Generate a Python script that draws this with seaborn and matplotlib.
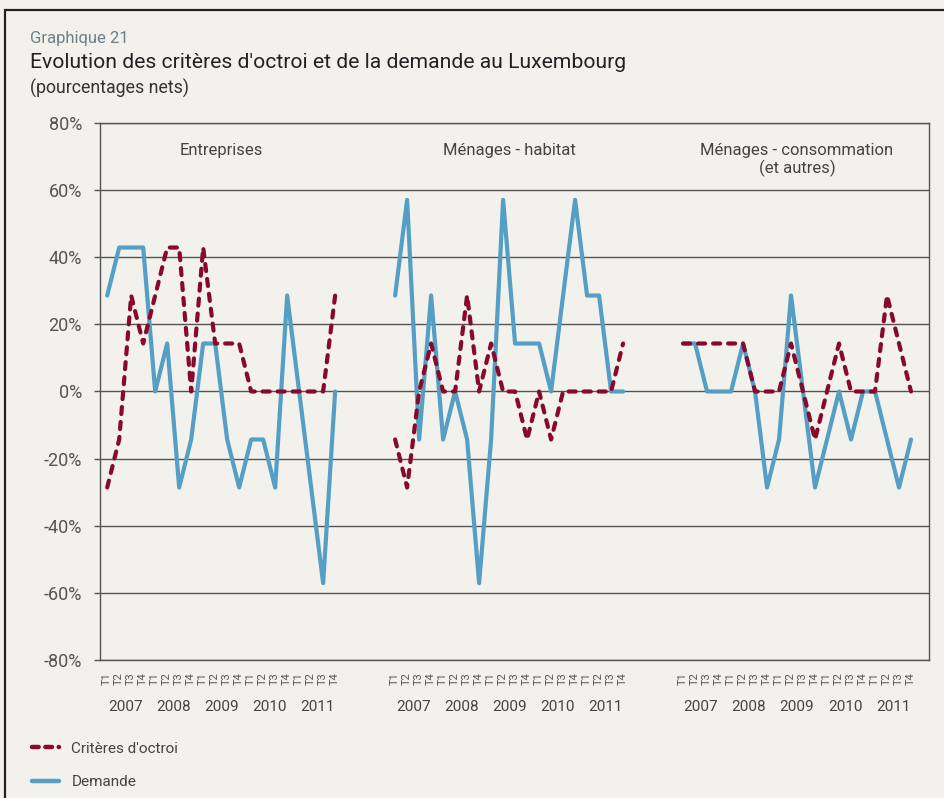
import numpy as np
import pandas as pd
import matplotlib
matplotlib.use("Agg")
import matplotlib.pyplot as plt
import matplotlib.transforms as mtransforms
from matplotlib.patches import Rectangle
from matplotlib.lines import Line2D
import seaborn as sns

# --- donnees (pourcentages nets) ---
trimestres = ["T1", "T2", "T3", "T4"]
annees = ["2007", "2008", "2009", "2010", "2011"]
panneaux = ["Entreprises", "Ménages - habitat", "Ménages - consommation\n(et autres)"]

crit_entreprises = [-28.6, -14.3, 28.6, 14.3, 28.6, 42.9, 42.9, 0, 42.9, 14.3,
                    14.3, 14.3, 0, 0, 0, 0, 0, 0, 0, 28.6]
dem_entreprises = [28.6, 42.9, 42.9, 42.9, 0, 14.3, -28.6, -14.3, 14.3, 14.3,
                   -14.3, -28.6, -14.3, -14.3, -28.6, 28.6, 0, -28.6, -57.1, 0]

crit_habitat = [-14.3, -28.6, 0, 14.3, 0, 0, 28.6, 0, 14.3, 0,
                0, -14.3, 0, -14.3, 0, 0, 0, 0, 0, 14.3]
dem_habitat = [28.6, 57.1, -14.3, 28.6, -14.3, 0, -14.3, -57.1, -14.3, 57.1,
               14.3, 14.3, 14.3, 0, 28.6, 57.1, 28.6, 28.6, 0, 0]

crit_conso = [14.3, 14.3, 14.3, 14.3, 14.3, 14.3, 0, 0, 0, 14.3,
              0, -14.3, 0, 14.3, 0, 0, 0, 28.6, 14.3, 0]
dem_conso = [14.3, 14.3, 0, 0, 0, 14.3, 0, -28.6, -14.3, 28.6,
             0, -28.6, -14.3, 0, -14.3, 0, 0, -14.3, -28.6, -14.3]

series = {
    "Entreprises": (crit_entreprises, dem_entreprises),
    "Ménages - habitat": (crit_habitat, dem_habitat),
    "Ménages - consommation\n(et autres)": (crit_conso, dem_conso),
}

ecart = 24  # 20 trimestres + 4 vides entre les panneaux
rows = []
for p, nom in enumerate(panneaux):
    crit, dem = series[nom]
    for i in range(20):
        pos = p * ecart + i
        rows.append({"panneau": p, "pos": pos, "serie": "Demande", "valeur": dem[i]})
        rows.append({"panneau": p, "pos": pos, "serie": "Critères d'octroi", "valeur": crit[i]})
df = pd.DataFrame(rows)

rouge = "#870A2C"
bleu = "#559FC4"
fond = "#F2F1EB"
gris = "#555555"

sns.set_style("white")
plt.rcParams["font.family"] = ["Roboto", "DejaVu Sans"]
plt.rcParams["lines.dash_capstyle"] = "round"

fig = plt.figure(figsize=(9.44, 7.98), dpi=100, facecolor=fond)
ax = fig.add_axes([100 / 944, 1 - 660 / 798, 829 / 944, 537 / 798])
ax.set_facecolor(fond)

sns.lineplot(data=df, x="pos", y="valeur", hue="serie", style="serie",
             units="panneau", estimator=None, sort=False,
             hue_order=["Demande", "Critères d'octroi"],
             palette={"Demande": bleu, "Critères d'octroi": rouge},
             dashes={"Demande": "", "Critères d'octroi": (1.7, 1.9)},
             linewidth=3.0, ax=ax, legend=False)

ax.set_ylim(-80, 80)
ax.set_xlim(-0.6, 68.5)
ax.set_yticks(np.arange(-80, 81, 20))
ax.set_yticklabels([f"{v}%" for v in range(-80, 81, 20)])
ax.yaxis.grid(True, color=gris, linewidth=1.0)
ax.set_axisbelow(True)
for s in ax.spines.values():
    s.set_color(gris)
    s.set_linewidth(1.0)
ax.tick_params(axis="y", length=4, width=1, color=gris, labelsize=13,
               labelcolor="#555555", pad=9, left=True)

xt = [p * ecart + i for p in range(3) for i in range(20)]
xl = [trimestres[i % 4] for p in range(3) for i in range(20)]
ax.set_xticks(xt)
ax.set_xticklabels(xl, rotation=90, fontsize=8, color="#555555")
ax.tick_params(axis="x", length=0, pad=9)
ax.set_xlabel("")
ax.set_ylabel("")

trans = mtransforms.blended_transform_factory(ax.transData, ax.transAxes)
for p in range(3):
    for k, an in enumerate(annees):
        ax.text(p * ecart + k * 4 + 1.5, -0.0875, an, transform=trans,
                ha="center", va="center", fontsize=11, color="#444444")
    ax.text(p * ecart + 9.5, 0.962, panneaux[p], transform=trans,
            ha="center", va="top", fontsize=12, color="#444444",
            linespacing=1.1)

# titres
fig.text(30 / 944, 1 - 38 / 798, "Graphique 21", fontsize=12,
         color="#6F7F88", va="center")
fig.text(30 / 944, 1 - 62 / 798,
         "Evolution des critères d'octroi et de la demande au Luxembourg",
         fontsize=15.2, color="#222222", va="center")
fig.text(30 / 944, 1 - 88 / 798, "(pourcentages nets)", fontsize=12.8,
         color="#333333", va="center")

# cadre
fig.patches.append(Rectangle((5 / 944, -0.1), 1.2, 1 - 10 / 798 + 0.1,
                             transform=fig.transFigure, fill=False,
                             edgecolor="#222222", linewidth=1.6))

# legende
handles = [Line2D([], [], color=rouge, linewidth=3.2, dashes=(1.5, 1.5)),
           Line2D([], [], color=bleu, linewidth=3.2)]
fig.legend(handles, ["Critères d'octroi", "Demande"], loc="upper left",
           bbox_to_anchor=(18 / 944, 1 - 728 / 798), frameon=False,
           fontsize=11, handlelength=1.8, labelspacing=1.25,
           handletextpad=0.8, labelcolor="#444444")

fig.savefig("out.png", dpi=100, facecolor=fond)
